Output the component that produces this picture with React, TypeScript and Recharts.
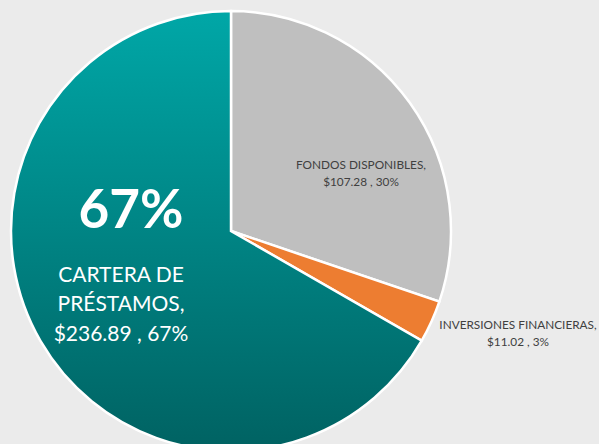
import React from 'react'
import { PieChart, Pie, Cell } from 'recharts'

// Datos del gráfico (en orden horario desde las 12)
const categories = ['FONDOS DISPONIBLES', 'INVERSIONES FINANCIERAS', 'CARTERA DE PRÉSTAMOS']
const amounts = [107.28, 11.02, 236.89]
const colors = ['#bfbfbf', '#ed7d31', 'url(#carteraGradient)']

const total = amounts.reduce((s, v) => s + v, 0)

const chartData = categories.map((name, i) => ({
  name,
  value: amounts[i],
  pct: Math.round((amounts[i] / total) * 100)
}))

const FONT = 'Lato, "Open Sans", sans-serif'

// Etiqueta personalizada, posicionada como en el original de Excel
// eslint-disable-next-line @typescript-eslint/no-explicit-any
const renderLabel = (props: any): React.JSX.Element | null => {
  const { cx, cy, index } = props
  const d = chartData[index]
  const valueLine = `$${d.value.toFixed(2)} , ${d.pct}%`

  if (index === 0) {
    return (
      <text x={cx + 130} y={cy - 62} textAnchor="middle" fill="#404040" fontSize={11.8} fontFamily={FONT}>
        <tspan x={cx + 130} dy={0}>{`${d.name},`}</tspan>
        <tspan x={cx + 130} dy={17}>{valueLine}</tspan>
      </text>
    )
  }
  if (index === 1) {
    return (
      <text x={cx + 287} y={cy + 98} textAnchor="middle" fill="#404040" fontSize={11.8} fontFamily={FONT}>
        <tspan x={cx + 287} dy={0}>{`${d.name},`}</tspan>
        <tspan x={cx + 287} dy={17}>{valueLine}</tspan>
      </text>
    )
  }
  return (
    <g>
      <text x={cx - 100} y={cy - 3} textAnchor="middle" fill="#ffffff" fontSize={53} fontWeight={700} fontFamily={FONT}>
        {`${d.pct}%`}
      </text>
      <text x={cx - 110} y={cy + 51} textAnchor="middle" fill="#ffffff" fontSize={21} fontFamily={FONT}>
        <tspan x={cx - 110} dy={0}>CARTERA DE</tspan>
        <tspan x={cx - 110} dy={29}>PRÉSTAMOS,</tspan>
        <tspan x={cx - 110} dy={30}>{valueLine}</tspan>
      </text>
    </g>
  )
}

function App(): React.JSX.Element {
  return (
    <div style={{ position: 'fixed', top: 0, left: 0, width: 599, height: 444, background: '#ebebeb', overflow: 'hidden' }}>
      <PieChart width={599} height={444} margin={{ top: 0, right: 0, bottom: 0, left: 0 }}>
        <defs>
          <linearGradient id="carteraGradient" x1="0" y1="0" x2="0" y2="1">
            <stop offset="0%" stopColor="#00a7a7" />
            <stop offset="100%" stopColor="#006262" />
          </linearGradient>
        </defs>
        <Pie
          data={chartData}
          dataKey="value"
          nameKey="name"
          cx={231}
          cy={231}
          outerRadius={220}
          startAngle={90}
          endAngle={-270}
          stroke="#ffffff"
          strokeWidth={2.5}
          labelLine={false}
          label={renderLabel}
          isAnimationActive={false}
        >
          {chartData.map((entry, i) => (
            <Cell key={entry.name} fill={colors[i]} />
          ))}
        </Pie>
      </PieChart>
    </div>
  )
}

export default App
